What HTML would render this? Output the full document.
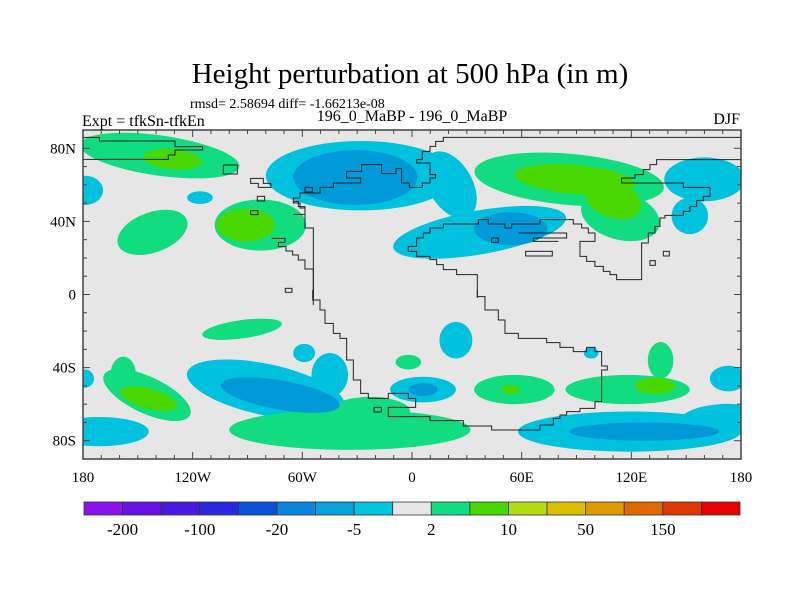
<!DOCTYPE html>
<html><head><meta charset="utf-8"><style>
body{margin:0;background:#fff;width:800px;height:600px;overflow:hidden}
svg{display:block;font-family:"Liberation Serif",serif}
</style></head><body>
<svg id="chart" width="800" height="600">
<text x="410" y="83" text-anchor="middle" font-size="29">Height perturbation at 500 hPa (in m)</text>
<text x="190" y="108" font-size="14">rmsd= 2.58694 diff= -1.66213e-08</text>
<text x="82" y="126" font-size="16">Expt = tfkSn-tfkEn</text>
<text x="412" y="121" text-anchor="middle" font-size="16">196_0_MaBP - 196_0_MaBP</text>
<text x="740" y="124" text-anchor="end" font-size="16">DJF</text>
<clipPath id="clip"><rect x="83" y="130" width="658" height="329"/></clipPath>
<rect x="83" y="130" width="658" height="329" fill="#e6e6e6"/>
<g id="fills" clip-path="url(#clip)"></g>
<g id="coast" clip-path="url(#clip)" fill="none" stroke="#222">
 <g transform="translate(40,125) scale(0.3333)" stroke-width="3">
  <path d="M130,37 L178,37 L178,48 L405,48 L405,65 L488,65 L488,75 L405,75 L405,90 L385,90 L385,103 L130,103"/>
  <rect x="550" y="120" width="42" height="27"/>
  <path d="M632,160 L670,160 L670,175 L693,175 L693,187 L655,187 L655,175 L632,175Z"/>
  <rect x="652" y="214" width="22" height="14"/><rect x="632" y="257" width="22" height="12"/><rect x="736" y="490" width="20" height="12"/>
  <path d="M695,340 L735,340 L735,352 L715,352 L715,365 L738,365 L738,378 L758,378 L758,390 L775,390 L775,405 L795,405 L795,432 L820,432 L820,540"/>
  <path d="M760,230 L775,230 L775,245 L795,245 L795,268 L760,268"/>
 </g>
 <g transform="translate(270,128) scale(0.3333)" stroke-width="3">
  <path d="M1420,28 L520,28 L520,40 L497,40 L497,55 L480,55 L480,70 L457,70 L457,95 L440,95 L440,105 L480,105 L480,140 L497,140 L497,150 L480,150 L480,165 L457,165 L457,178 L418,178 L418,165 L395,165 L395,122 L378,122 L378,137 L335,137 L335,110 L275,110 L275,130 L230,130 L230,150 L272,150 L272,165 L190,165 L190,178 L150,178 L150,195 L90,195 L90,210 L70,210 L70,225 L90,225 L90,240 L105,240 L105,300 L130,300 L130,510"/>
  <rect x="105" y="178" width="22" height="14"/><rect x="665" y="330" width="20" height="13"/><rect x="767" y="370" width="80" height="14"/><rect x="1180" y="370" width="18" height="14"/><rect x="1140" y="398" width="16" height="14"/>
  <path d="M520,300 L520,288 L625,288 L625,275 L655,275 L655,288 L705,288 L705,300 L725,300 L725,288 L810,288 L810,275 L910,275 L910,288 L935,288 L935,300 L955,300 L955,315 L975,315 L975,340 L930,340 L930,385 L950,385 L950,400 L975,400 L975,415 L1000,415 L1000,430 L1020,430 L1020,440 L1040,440 L1040,455 L1115,455 L1115,345 L1135,345 L1135,315 L1155,315 L1155,295 L1170,295 L1170,270 L1185,270 L1185,262 L1240,262 L1240,250 L1260,250 L1260,235 L1280,235 L1280,218 L1300,218 L1300,205 L1320,205 L1320,178 L1240,178 L1240,165 L1055,165 L1055,150 L1095,150 L1095,140 L1120,140 L1120,125 L1140,125 L1140,110 L1160,110 L1160,95 L1420,95"/>
  <path d="M520,300 L480,300 L480,315 L460,315 L460,330 L440,330 L440,355 L415,355 L415,370 L440,370 L440,385 L480,385 L480,395 L500,395 L500,410 L520,410 L520,425 L560,425 L560,440 L622,440 L622,510"/>
  <path d="M745,315 L890,315 L890,330 L790,330 L790,340 L865,340"/>
 </g>
 <g transform="translate(270,290) scale(0.3333)" stroke-width="3">
  <path d="M128,0 L128,30 L150,30 L150,60 L165,60 L165,100 L190,100 L190,130 L210,130 L210,145 L230,145 L230,210 L250,210 L250,270 L272,270 L272,310 L295,310 L295,325 L355,325 L355,310 L415,310 L415,325 L437,325 L437,352 L355,352 L355,380 L480,380 L480,392 L580,392 L580,408 L665,408 L665,420 L810,420 L810,405 L850,405 L850,385 L870,385 L870,375 L890,375 L890,365 L930,365 L930,355 L975,355 L975,335 L995,335 L995,240 L1012,240 L1012,228 L995,228 L995,185 L975,185 L975,172 L950,172 L950,185 L910,185 L910,172 L870,172 L870,158 L830,158 L830,145 L745,145 L745,130 L705,130 L705,90 L685,90 L685,60 L645,60 L645,20 L622,20 L622,0"/>
  <rect x="312" y="352" width="22" height="14"/>
 </g>
</g>
<rect x="83" y="130" width="658" height="329" fill="none" stroke="#444" stroke-width="1.5"/>
<g id="axes"></g>
<g id="colorbar"></g>
</svg>
<script>
// blob data: lon/lat centres, radii in degrees, rotation, contour level (+/-1, +/-2)
const blobLon   = [-138,-131,-179,-116,-142,-83,-91,-28,-31,21,37,54,86,114,89,110,160,152,-93,-179,-145,-158,-144,-171,-80,-45,-72,-34,-23,-59,24,6,6,98,-2,56,54,118,136,133,173,119,168,127];
const blobLat   = [76,74,57,53,34,38,38,65,64,60,34,36,63,43,63,52,63,43,-19,-46,-55,-44,-57,-75,-52,-44,-55,-74,-64,-32,-25,-52,-52,-32,-37,-52,-52,-52,-36,-50,-46,-75,-68,-75];
const blobRx    = [44,16,10,7,20,25,16,52,34,12,48,20,52,22,33,16,22,10,22,5,26,7,16,27,44,10,33,66,22,6,9,18,8,4,7,22,5,34,7,11,10,61,22,41];
const blobRy    = [11,5.5,8,3.5,11,14,9,19,15,20,12,9,14,13,8,10,12,10,5,5,10,10,5.5,8,14,12,8,11,8,5,10,7,3.5,3,4,8,2.5,8,10,4.5,7,11,8,5];
const blobRot   = [8,5,0,0,-20,0,0,0,0,-30,-10,0,5,15,5,20,0,0,-8,0,25,0,15,0,12,0,10,0,0,0,0,0,0,0,0,0,0,0,0,0,0,0,-5,0];
const blobLevel = [1,2,-1,-1,1,1,2,-1,-2,-1,-1,-2,1,1,2,2,-1,-1,1,-1,1,1,2,-1,-1,-1,-2,1,1,-1,-1,-1,-2,-1,1,1,2,1,1,2,-1,-1,-1,-2];
const levelColor = {"1":"#12dc80","2":"#48d800","-1":"#00c1de","-2":"#009ad9"};
// colorbar data
const cbColors = ["#8a12ea","#6a12e6","#4a18e0","#2a28de","#0a50dc","#0a84dc","#0aa2dc","#00c4e0","#e6e6e6","#12dc80","#48d800","#b4dc12","#dcc000","#e09a00","#e06a00","#e03800","#e60000"];
const cbLabels = ["-200","-100","-20","-5","2","10","50","150"];
const lonTicks = [-180,-120,-60,0,60,120,180];
const lonLabels = ["180","120W","60W","0","60E","120E","180"];
const latTicks = [80,40,0,-40,-80];
const latLabels = ["80N","40N","0","40S","80S"];

const X0=83,W=658,Y0=130,H=329;
const xs = lon => X0 + (lon+180)/360*W;
const ys = lat => Y0 + (90-lat)/180*H;
const ds = d => d/360*W;
const NS="http://www.w3.org/2000/svg";
function mk(t,a,p){const e=document.createElementNS(NS,t);for(const k in a)e.setAttribute(k,a[k]);p.appendChild(e);return e;}

const fills=document.getElementById('fills');
[1,2].forEach(mag=>{
  blobLevel.forEach((lv,i)=>{
    if(Math.abs(lv)!==mag) return;
    const cx=xs(blobLon[i]), cy=ys(blobLat[i]);
    const e=mk('ellipse',{cx:cx,cy:cy,rx:ds(blobRx[i]),ry:ds(blobRy[i]),fill:levelColor[lv],transform:`rotate(${blobRot[i]} ${cx} ${cy})`},fills);
    
    
  });
});

const ax=document.getElementById('axes');
for(let lon=-180;lon<=180;lon+=10){
  const major=lonTicks.includes(lon), L=major?7:4, x=xs(lon);
  const t1=mk('line',{x1:x,x2:x,y1:Y0+H,y2:Y0+H-L,stroke:'#444'},ax);
  
  
  const t2=mk('line',{x1:x,x2:x,y1:Y0,y2:Y0+L,stroke:'#444'},ax);
  
  
}
lonTicks.forEach((lon,i)=>{
  const t=mk('text',{x:xs(lon),y:482,'text-anchor':'middle','font-size':15},ax);t.textContent=lonLabels[i];
  
  
});
for(let lat=-80;lat<=80;lat+=10){
  const major=latTicks.includes(lat), L=major?7:4, y=ys(lat);
  const t1=mk('line',{x1:X0,x2:X0+L,y1:y,y2:y,stroke:'#444'},ax);
  
  
  const t2=mk('line',{x1:X0+W,x2:X0+W-L,y1:y,y2:y,stroke:'#444'},ax);
  
  
}
latTicks.forEach((lat,i)=>{
  const t=mk('text',{x:76,y:ys(lat)+5,'text-anchor':'end','font-size':15},ax);t.textContent=latLabels[i];
  
  
});

const cb=document.getElementById('colorbar');
const cbX=84,cbW=656,cbY=502,cbH=13,bw=cbW/cbColors.length;
cbColors.forEach((c,i)=>{
  const r=mk('rect',{x:cbX+i*bw,y:cbY,width:bw,height:cbH,fill:c,stroke:'#333','stroke-width':0.8},cb);
  
  
});
cbLabels.forEach((s,i)=>{
  const t=mk('text',{x:cbX+(2*i+1)*bw,y:535,'text-anchor':'middle','font-size':17},cb);t.textContent=s;
  
  
});
</script>
</body></html>
